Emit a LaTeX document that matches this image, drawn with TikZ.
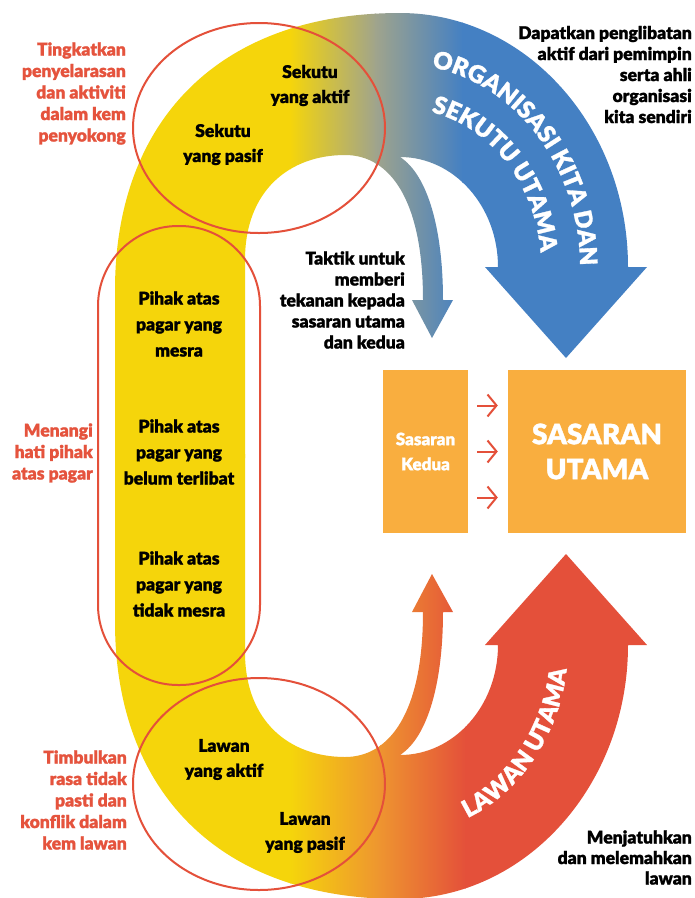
\documentclass[tikz,border=0pt]{standalone}
\usepackage{fontspec}
\setmainfont{Lato}[BoldFont={Lato Black}, BoldFeatures={FakeBold=1.2}]
\usetikzlibrary{arrows.meta,decorations.text}
\definecolor{yel}{HTML}{F5D50B}
\definecolor{blu}{HTML}{4480C3}
\definecolor{midT}{HTML}{A0A48C}
\definecolor{redc}{HTML}{E4503A}
\definecolor{orc}{HTML}{EE9430}
\definecolor{boxc}{HTML}{F9AE3F}
\definecolor{lbl}{HTML}{E5533D}
\newcommand\bandclip{%
  \clip (115,458) -- (115,290) .. controls (115,120) and (220,13) .. (400,13)
    arc[start angle=-90, end angle=0, x radius=228, y radius=254]
    -- (647,267) -- (566,358) -- (485,267) -- (498,267)
    arc[start angle=0, end angle=-90, x radius=98, y radius=110]
    .. controls (428,175) and (443,230) .. (443,300)
    -- (453,300) -- (432,338) -- (412,300) -- (423,300)
    .. controls (423,200) and (390,155) .. (345,155)
    .. controls (290,155) and (245,190) .. (245,260)
    -- (245,458) -- cycle;}
\begin{document}
\begin{tikzpicture}[x=1pt,y=-1pt,
  redlbl/.style={text=lbl, font=\bfseries\fontsize{17.5}{21.5}\selectfont, align=right, anchor=east, inner sep=0pt},
  blk/.style={font=\bfseries\fontsize{17.5}{25}\selectfont, align=center, inner sep=0pt},
  blkr/.style={font=\bfseries\fontsize{17.5}{21}\selectfont, align=right, anchor=east, inner sep=0pt},
  ring/.style={draw=redc, line width=2pt},
  redarr/.style={draw=redc, line width=2pt, -{Straight Barb[length=9pt,width=22pt]}},
  boxst/.style={fill=boxc, text=white, inner sep=0pt, align=center}]
\useasboundingbox (0,0) rectangle (695,898);
\fill[white] (0,0) rectangle (695,898);
% top band: yellow -> blue
\begin{scope}
  \bandclip
  \fill[yel] (100,0) rectangle (291,470);
  \shade[left color=yel, right color=midT] (290,0) rectangle (376,470);
  \shade[left color=midT, right color=blu] (375,0) rectangle (463,470);
  \fill[blu] (462,0) rectangle (700,470);
\end{scope}
% bottom band: yellow -> orange -> red (mirrored)
\begin{scope}[shift={(0,912)}, yscale=-1]
  \bandclip
  \fill[yel] (100,0) rectangle (291,470);
  \shade[left color=yel, right color=orc] (290,0) rectangle (381,470);
  \shade[left color=orc, right color=redc] (380,0) rectangle (466,470);
  \fill[redc] (465,0) rectangle (700,470);
\end{scope}
% rings
\draw[ring] (259,128) ellipse [x radius=126, y radius=105];
\draw[ring] (259,784) ellipse [x radius=126, y radius=106];
\draw[ring, rounded corners=80pt] (98,226) rectangle (260,685);
% curved texts
\path[decorate, decoration={text along path, text align=center,
  text={|\fontsize{24}{24}\selectfont\bfseries\color{white}|ORGANISASI KITA DAN}}]
  (384.3,64.8) arc[start angle=-95, end angle=13, x radius=180, y radius=203];
\path[decorate, decoration={text along path, text align=center,
  text={|\fontsize{24}{24}\selectfont\bfseries\color{white}|SEKUTU UTAMA}}]
  (347.2,119.6) arc[start angle=-112, end angle=26, x radius=141, y radius=159];
\path[decorate, decoration={text along path, text align=center,
  text={|\fontsize{24}{24}\selectfont\bfseries\color{white}|LAWAN UTAMA}}]
  (429.2,831.1) arc[start angle=80, end angle=-5, x radius=168, y radius=189];
% labels
\node[redlbl] (l1) at (126,93.5) {Tingkatkan\\penyelarasan\\dan aktiviti\\dalam kem\\penyokong};
\node[redlbl] (l2) at (93,453) {Menangi\\hati pihak\\atas pagar};
\node[redlbl] (l3) at (127,800) {Timbulkan\\rasa tidak\\pasti dan\\konflik dalam\\kem lawan};
\node[blk] (s1) at (310,85.5) {Sekutu\\yang aktif};
\node[blk] (s2) at (223,144.5) {Sekutu\\yang pasif};
\node[blk, font=\bfseries\fontsize{17.5}{26}\selectfont] (p1) at (179,324) {Pihak atas\\pagar yang\\mesra};
\node[blk, font=\bfseries\fontsize{17.5}{26}\selectfont] (p2) at (179,452) {Pihak atas\\pagar yang\\belum terlibat};
\node[blk, font=\bfseries\fontsize{17.5}{26}\selectfont] (p3) at (179,584) {Pihak atas\\pagar yang\\tidak mesra};
\node[blk] (w1) at (224,759.5) {Lawan\\yang aktif};
\node[blk] (w2) at (305,832.5) {Lawan\\yang pasif};
\node[blkr] (r1) at (692,74.5) {Dapatkan penglibatan\\aktif dari pemimpin\\serta ahli\\organisasi\\kita sendiri};
\node[blkr] (r2) at (405,300) {Taktik untuk\\memberi\\tekanan kepada\\sasaran utama\\dan kedua};
\node[blkr, font=\bfseries\fontsize{17.5}{20.5}\selectfont] (r3) at (692,857.5) {Menjatuhkan\\dan melemahkan\\lawan};
% target boxes
\node[boxst, minimum width=85pt, minimum height=163pt, font=\bfseries\fontsize{17}{25}\selectfont] (kedua) at (425.5,451.5) {Sasaran\\Kedua};
\node[boxst, minimum width=178pt, minimum height=163pt, font=\bfseries\fontsize{28}{35}\selectfont] (utama) at (597,451.5) {SASARAN\\UTAMA};
\draw[redarr, shorten <=9pt, shorten >=10pt] ([yshift=46pt]kedua.east) -- ([yshift=46pt]kedua.east -| utama.west);
\draw[redarr, shorten <=9pt, shorten >=10pt] (kedua.east) -- (utama.west);
\draw[redarr, shorten <=9pt, shorten >=10pt] ([yshift=-46pt]kedua.east) -- ([yshift=-46pt]kedua.east -| utama.west);
\end{tikzpicture}
\end{document}
